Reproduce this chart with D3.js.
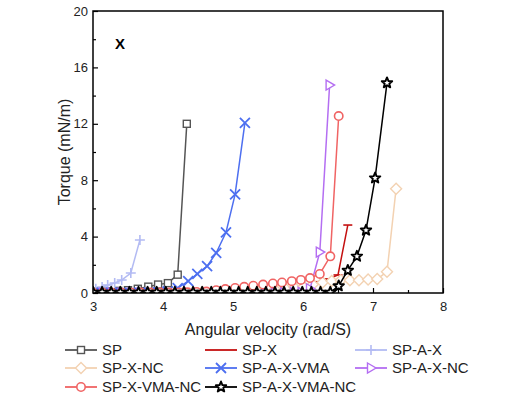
<!DOCTYPE html>
<html><head><meta charset="utf-8">
<script src="https://cdn.jsdelivr.net/npm/d3@7"></script>
<style>body{margin:0;background:#fff}svg{display:block}text{font-family:"Liberation Sans",Arial,sans-serif}</style>
</head><body><svg id="c" width="514" height="400"></svg>
<script>
// ---- data ----
const xTicks = [3, 4, 5, 6, 7, 8];
const yTicks = [0, 4, 8, 12, 16, 20];
const spX = [3.07, 3.21, 3.36, 3.5, 3.64, 3.79, 3.93, 4.07, 4.21, 4.34];
const spY = [0.1, 0.12, 0.15, 0.2, 0.3, 0.45, 0.6, 0.7, 1.3, 12.0];
const spxX = [3.0, 3.4, 3.8, 4.2, 4.6, 5.0, 5.4, 5.7, 5.97, 6.1, 6.24, 6.37, 6.5, 6.64];
const spxY = [0.0, 0.0, 0.02, 0.04, 0.07, 0.1, 0.15, 0.22, 0.4, 0.55, 0.8, 1.0, 1.28, 4.82];
const spaxX = [3.04, 3.13, 3.21, 3.31, 3.41, 3.54, 3.67];
const spaxY = [0.3, 0.43, 0.57, 0.71, 0.92, 1.42, 3.76];
const spxncX = [3.0, 3.26, 3.52, 3.78, 4.04, 4.3, 4.56, 4.82, 5.08, 5.34, 5.6, 5.75, 5.88, 6.01, 6.14, 6.28, 6.41, 6.54, 6.67, 6.8, 6.93, 7.06, 7.2, 7.33];
const spxncY = [0.0, 0.0, 0.0, 0.0, 0.02, 0.03, 0.05, 0.08, 0.12, 0.18, 0.25, 0.3, 0.38, 0.45, 0.6, 0.75, 0.85, 0.9, 0.9, 0.9, 0.95, 1.0, 1.5, 7.4];
const vmaX = [3.0, 3.13, 3.27, 3.4, 3.53, 3.67, 3.8, 3.94, 4.07, 4.21, 4.36, 4.49, 4.63, 4.76, 4.9, 5.03, 5.17];
const vmaY = [0.0, 0.0, 0.0, 0.0, 0.0, 0.0, 0.02, 0.05, 0.12, 0.35, 0.85, 1.35, 1.9, 2.84, 4.3, 7.0, 12.06];
const spaxncX = [3.0, 3.14, 3.27, 3.41, 3.55, 3.68, 3.82, 3.96, 4.09, 4.23, 4.37, 4.5, 4.64, 4.78, 4.91, 5.05, 5.19, 5.32, 5.46, 5.6, 5.73, 5.87, 5.98, 6.1, 6.24, 6.38];
const spaxncY = [0, 0, 0, 0, 0, 0, 0, 0, 0, 0, 0, 0, 0, 0, 0, 0, 0, 0, 0, 0, 0.02, 0.03, 0.05, 0.3, 2.9, 14.75];
const spxvmancX = [3.0, 3.14, 3.27, 3.41, 3.55, 3.68, 3.82, 3.96, 4.09, 4.23, 4.35, 4.48, 4.62, 4.76, 4.89, 5.03, 5.16, 5.29, 5.43, 5.57, 5.7, 5.84, 5.97, 6.1, 6.24, 6.39, 6.51];
const spxvmancY = [0.02, 0.02, 0.02, 0.02, 0.02, 0.03, 0.03, 0.03, 0.03, 0.04, 0.05, 0.07, 0.1, 0.2, 0.28, 0.36, 0.44, 0.52, 0.6, 0.68, 0.75, 0.84, 0.93, 1.06, 1.35, 2.6, 12.55];
const allX = [3.0, 3.13, 3.26, 3.39, 3.52, 3.65, 3.78, 3.91, 4.04, 4.17, 4.3, 4.43, 4.56, 4.69, 4.82, 4.95, 5.08, 5.21, 5.34, 5.47, 5.6, 5.73, 5.86, 5.99, 6.12, 6.25, 6.39, 6.51, 6.64, 6.77, 6.9, 7.03, 7.2];
const allY = [0.05, 0.05, 0.05, 0.05, 0.05, 0.05, 0.05, 0.05, 0.05, 0.05, 0.05, 0.05, 0.05, 0.05, 0.05, 0.05, 0.05, 0.05, 0.05, 0.05, 0.05, 0.05, 0.05, 0.05, 0.05, 0.05, 0.05, 0.5, 1.6, 2.6, 4.45, 8.15, 14.9];
const names = ["SP", "SP-X", "SP-A-X", "SP-X-NC", "SP-A-X-VMA", "SP-A-X-NC", "SP-X-VMA-NC", "SP-A-X-VMA-NC"];
const colors = ["#555555", "#c41010", "#b3bbf3", "#f3d2b2", "#4d6ff0", "#b46ef2", "#f06464", "#000000"];
const markers = ["square", "dash", "plus", "diamond", "cross", "triangle", "circle", "star"];

const series = [
  [spX, spY], [spxX, spxY], [spaxX, spaxY], [spxncX, spxncY],
  [vmaX, vmaY], [spaxncX, spaxncY], [spxvmancX, spxvmancY], [allX, allY]
].map((d, i) => ({name: names[i], color: colors[i], marker: markers[i],
  pts: d[0].map((x, j) => ({x, y: d[1][j]}))}));

// ---- layout ----
const svg = d3.select("#c");
const L = 93, R = 443, T = 11, B = 293;
const x = d3.scaleLinear().domain([3, 8]).range([L, R]);
const y = d3.scaleLinear().domain([0, 20]).range([B, T]);

// axes (inward ticks)
const xAxis = d3.axisBottom(x).tickValues(xTicks).tickSize(-5).tickPadding(9).tickFormat(d3.format("d"));
const yAxis = d3.axisLeft(y).tickValues(yTicks).tickSize(-5).tickPadding(5).tickFormat(d3.format("d"));
svg.append("g").attr("transform", `translate(0,${B})`).call(xAxis);
svg.append("g").attr("transform", `translate(${L},0)`).call(yAxis);
svg.append("g").attr("transform", `translate(0,${B})`)
  .call(d3.axisBottom(x).tickValues(d3.range(3.5, 8, 1)).tickSize(-3).tickFormat(""));
svg.append("g").attr("transform", `translate(${L},0)`)
  .call(d3.axisLeft(y).tickValues(d3.range(2, 20, 4)).tickSize(-3).tickFormat(""));
svg.selectAll(".domain").remove();
svg.selectAll(".tick line").attr("stroke", "#000").attr("stroke-width", 1.2);
svg.selectAll(".tick text").attr("font-size", 13).attr("fill", "#222");

// data clip
svg.append("clipPath").attr("id", "clip").append("rect")
  .attr("x", L).attr("y", T - 10).attr("width", R - L).attr("height", B - T + 10);

function drawMarker(g, type, color, cx, cy) {
  const sw = 1.4;
  if (type === "square") {
    g.append("rect").attr("x", cx - 3.5).attr("y", cy - 3.5).attr("width", 7).attr("height", 7)
      .attr("fill", "#fff").attr("stroke", color).attr("stroke-width", sw);
  } else if (type === "circle") {
    g.append("circle").attr("cx", cx).attr("cy", cy).attr("r", 4.2)
      .attr("fill", "#fff").attr("stroke", color).attr("stroke-width", sw + 0.2);
  } else if (type === "diamond") {
    g.append("path").attr("d", `M${cx},${cy - 5.5}L${cx + 5.5},${cy}L${cx},${cy + 5.5}L${cx - 5.5},${cy}Z`)
      .attr("fill", "#fff").attr("stroke", color).attr("stroke-width", sw);
  } else if (type === "triangle") {
    g.append("path").attr("d", `M${cx - 3.5},${cy - 5}L${cx + 5},${cy}L${cx - 3.5},${cy + 5}Z`)
      .attr("fill", "#fff").attr("stroke", color).attr("stroke-width", sw);
  } else if (type === "cross") {
    g.append("path").attr("d", `M${cx - 5},${cy - 5}L${cx + 5},${cy + 5}M${cx - 5},${cy + 5}L${cx + 5},${cy - 5}`)
      .attr("stroke", color).attr("stroke-width", 1.8);
  } else if (type === "plus") {
    g.append("path").attr("d", `M${cx - 5},${cy}L${cx + 5},${cy}M${cx},${cy - 5}L${cx},${cy + 5}`)
      .attr("stroke", color).attr("stroke-width", 1.6);
  } else if (type === "dash") {
    g.append("path").attr("d", `M${cx - 4.5},${cy}L${cx + 4.5},${cy}`)
      .attr("stroke", color).attr("stroke-width", 1.6);
  } else if (type === "star") {
    const pts = [];
    for (let k = 0; k < 10; k++) {
      const r = k % 2 === 0 ? 5.5 : 2.4;
      const a = -Math.PI / 2 + k * Math.PI / 5;
      pts.push([cx + r * Math.cos(a), cy + r * Math.sin(a)]);
    }
    g.append("path").attr("d", "M" + pts.map(p => p.join(",")).join("L") + "Z")
      .attr("fill", "#fff").attr("stroke", color).attr("stroke-width", 1.9)
      .attr("stroke-linejoin", "round");
  }
}

const line = d3.line().x(d => x(d.x)).y(d => y(d.y));
const plot = svg.append("g").attr("clip-path", "url(#clip)");
series.forEach(s => {
  const g = plot.append("g");
  g.append("path").datum(s.pts).attr("d", line).attr("fill", "none")
    .attr("stroke", s.color).attr("stroke-width", 1.5);
  s.pts.forEach(p => drawMarker(g, s.marker, s.color, x(p.x), y(p.y)));
});

// frame
svg.append("rect").attr("x", L).attr("y", T).attr("width", R - L).attr("height", B - T)
  .attr("fill", "none").attr("stroke", "#000").attr("stroke-width", 1.5);

// labels
svg.append("text").attr("x", 120).attr("y", 49).attr("text-anchor", "middle")
  .attr("font-size", 15).attr("font-weight", "bold").text("X");
svg.append("text").attr("x", 268).attr("y", 335).attr("text-anchor", "middle")
  .attr("font-size", 16).attr("fill", "#222").text("Angular velocity (rad/S)");
svg.append("text").attr("transform", "translate(70,152) rotate(-90)").attr("text-anchor", "middle")
  .attr("font-size", 16).attr("fill", "#222").text("Torque (mN/m)");

// legend
const colX = [65, 205, 355];
const rowY = [350, 368, 387];
series.forEach((s, i) => {
  const cxp = colX[i % 3], cyp = rowY[Math.floor(i / 3)];
  const g = svg.append("g");
  g.append("line").attr("x1", cxp).attr("x2", cxp + 32).attr("y1", cyp).attr("y2", cyp)
    .attr("stroke", s.color).attr("stroke-width", 1.8);
  if (s.marker !== "dash") drawMarker(g, s.marker, s.color, cxp + 16, cyp);
  g.append("text").attr("x", cxp + 37).attr("y", cyp + 5).attr("font-size", 15)
    .attr("fill", "#222").text(s.name);
});
</script></body></html>
